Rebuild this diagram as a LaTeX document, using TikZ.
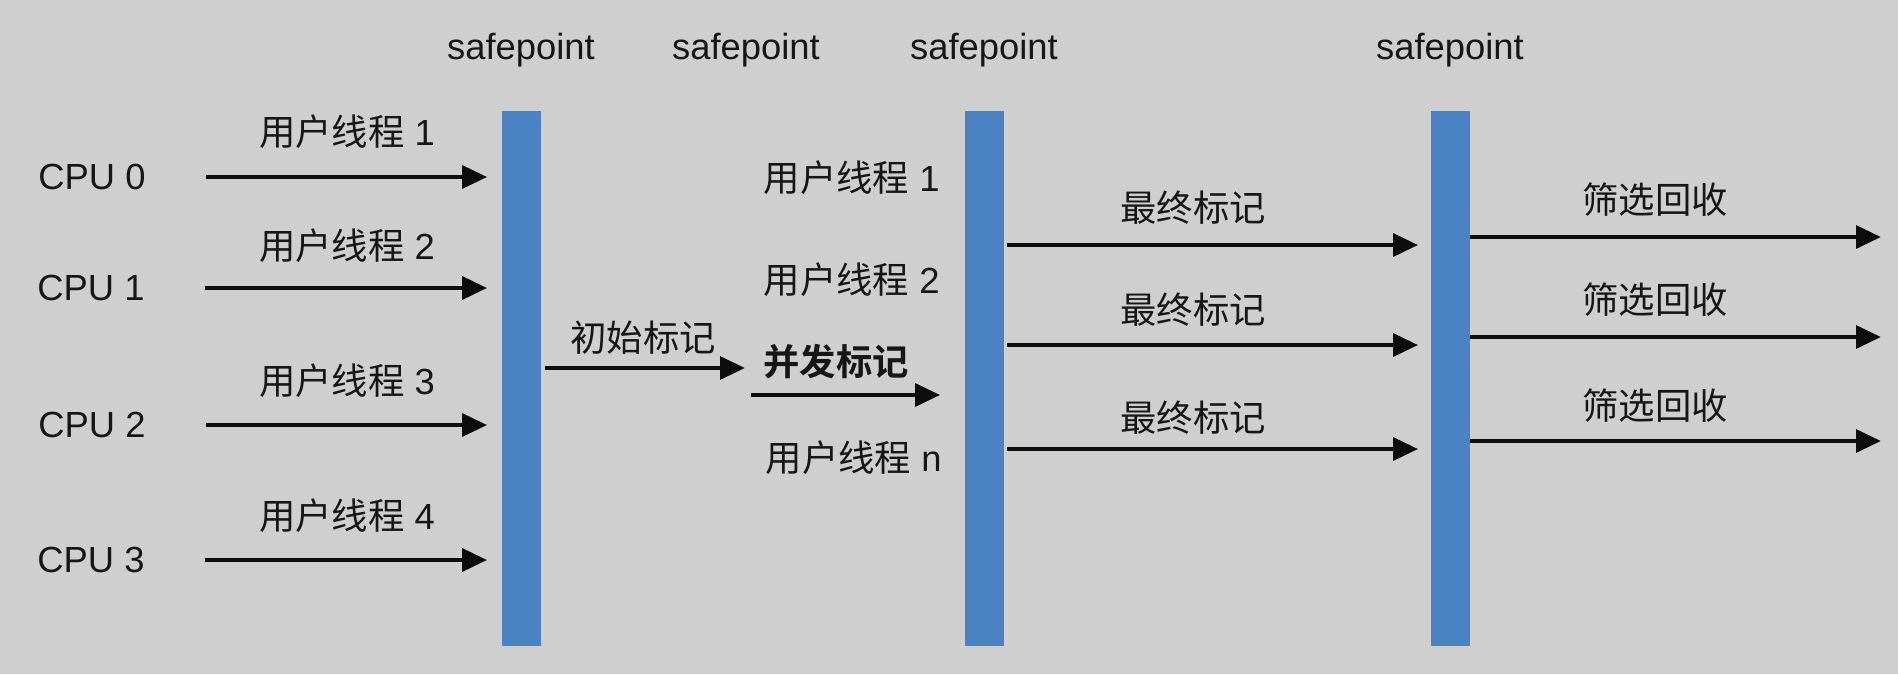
\documentclass[tikz,border=0pt]{standalone}
\usepackage{fontspec}
\setmainfont{Liberation Sans}
\newfontfamily\cjk[BoldFont={Noto Sans CJK SC Bold}]{Noto Sans CJK SC}
\usetikzlibrary{arrows.meta}
\definecolor{bgcol}{HTML}{CFCFCF}
\definecolor{barcol}{HTML}{4B82C3}
\definecolor{txtcol}{HTML}{161616}
\definecolor{arrcol}{HTML}{0C0C0C}

\begin{document}
\begin{tikzpicture}[x=0.02cm, y=-0.02cm,
	lbl/.style={text=txtcol, inner sep=0pt, font=\fontsize{20.7}{25}\selectfont},
	sbar/.style={fill=barcol, minimum width=0.78cm, minimum height=10.7cm, inner sep=0pt},
	arr/.style={-{Triangle[length=0.5cm,width=0.45cm]}, line width=0.095cm, arrcol}]
	\fill[bgcol] (0,0) rectangle (1898,674);
	\useasboundingbox (0,0) rectangle (1898,674);
	% safepoints
	\node[lbl] (sp1) at (521,50) {safepoint};
	\node[lbl] (sp2) at (746,50) {safepoint};
	\node[lbl] (sp3) at (984,50) {safepoint};
	\node[lbl] (sp4) at (1450,50) {safepoint};
	\node[sbar] (b1) at (521,378.5) {};
	\node[sbar] (b2) at (984,378.5) {};
	\node[sbar] (b3) at (1450,378.5) {};
	% cpus and user threads
	\node[lbl] (c0) at (92,177) {CPU 0};
	\node[lbl] (c1) at (91,288) {CPU 1};
	\node[lbl] (c2) at (92,425) {CPU 2};
	\node[lbl] (c3) at (91,560) {CPU 3};
	\node[lbl] (t1) at (347,132) {{\cjk 用户线程} 1};
	\node[lbl] (t2) at (347,246) {{\cjk 用户线程} 2};
	\node[lbl] (t3) at (347,381) {{\cjk 用户线程} 3};
	\node[lbl] (t4) at (347,516) {{\cjk 用户线程} 4};
	\coordinate (s0) at (206,177);
	\coordinate (s1) at (205,288);
	\coordinate (s2) at (206,425);
	\coordinate (s3) at (205,560);
	\draw[arr, shorten >=0.28cm] (s0) -- (s0 -| b1.west);
	\draw[arr, shorten >=0.28cm] (s1) -- (s1 -| b1.west);
	\draw[arr, shorten >=0.28cm] (s2) -- (s2 -| b1.west);
	\draw[arr, shorten >=0.28cm] (s3) -- (s3 -| b1.west);
	% initial and concurrent marking
	\node[lbl] (m1) at (643,338) {\cjk 初始标记};
	\node[lbl] (m2) at (836,362) {\cjk\bfseries 并发标记};
	\coordinate (i0) at (745,368);
	\coordinate (k0) at (751,395);
	\draw[arr, shorten <=0.08cm] (i0 -| b1.east) -- (i0);
	\draw[arr, shorten >=0.48cm] (k0) -- (k0 -| b2.west);
	\node[lbl, anchor=east] (u1) at (940,178) {{\cjk 用户线程} 1};
	\node[lbl, anchor=east] (u2) at (940,280) {{\cjk 用户线程} 2};
	\node[lbl, anchor=east] (un) at (942,458) {{\cjk 用户线程} n};
	% final marking
	\node[lbl] (f1) at (1193,208) {\cjk 最终标记};
	\node[lbl] (f2) at (1193,310) {\cjk 最终标记};
	\node[lbl] (f3) at (1193,418) {\cjk 最终标记};
	\coordinate (r1) at (1213,245);
	\coordinate (r2) at (1213,345);
	\coordinate (r3) at (1213,449);
	\draw[arr, shorten <=0.06cm, shorten >=0.24cm] (r1 -| b2.east) -- (r1 -| b3.west);
	\draw[arr, shorten <=0.06cm, shorten >=0.24cm] (r2 -| b2.east) -- (r2 -| b3.west);
	\draw[arr, shorten <=0.06cm, shorten >=0.24cm] (r3 -| b2.east) -- (r3 -| b3.west);
	% cleanup
	\node[lbl] (g1) at (1655,200) {\cjk 筛选回收};
	\node[lbl] (g2) at (1655,300) {\cjk 筛选回收};
	\node[lbl] (g3) at (1655,406) {\cjk 筛选回收};
	\coordinate (e1) at (1881,237);
	\coordinate (e2) at (1881,337);
	\coordinate (e3) at (1881,441);
	\draw[arr] (e1 -| b3.east) -- (e1);
	\draw[arr] (e2 -| b3.east) -- (e2);
	\draw[arr] (e3 -| b3.east) -- (e3);
\end{tikzpicture}
\end{document}
